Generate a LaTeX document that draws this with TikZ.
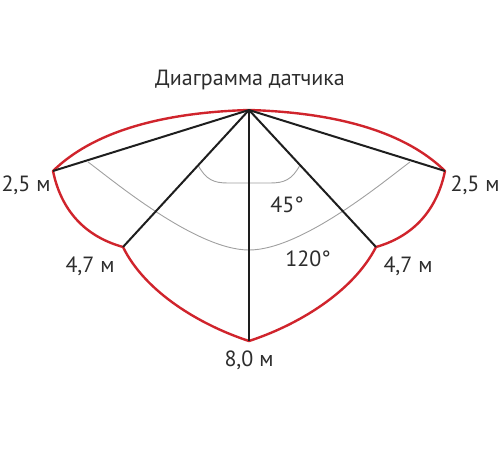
\documentclass[tikz,border=0pt]{standalone}
\usepackage{fontspec}
\setmainfont{PT Sans}
\definecolor{sred}{RGB}{208,36,44}
\definecolor{sblack}{RGB}{30,30,30}
\definecolor{sgray}{RGB}{160,160,160}
\definecolor{stext}{RGB}{45,45,45}
\begin{document}
\begin{tikzpicture}[x=1pt,y=-1pt,
  redline/.style={draw=sred,line width=2.4pt,line join=round},
  blackline/.style={draw=sblack,line width=2pt},
  grayline/.style={draw=sgray,line width=0.9pt},
  lbl/.style={text=stext,font=\fontsize{22}{26}\selectfont,inner sep=0pt}]
\useasboundingbox (0,0) rectangle (500,450);
\coordinate (apex) at (249,110);
\coordinate (L25) at (53,171);
\coordinate (R25) at (445,171);
\coordinate (L47) at (123,247);
\coordinate (R47) at (376,247);
\coordinate (B80) at (249,341);
% gray arcs
\draw[grayline] (198,165) .. controls (206,180) and (214,183) .. (228,183) -- (270,183) .. controls (284,183) and (292,180) .. (300,165);
\draw[grayline] (88,162) .. controls (110,178) and (195,250) .. (249,250) .. controls (303,250) and (388,178) .. (410,162);
% red outline
\draw[redline] (apex) .. controls (180,112) and (100,125) .. (L25)
  .. controls (60,205) and (80,235) .. (L47)
  .. controls (145,292) and (200,325) .. (B80)
  .. controls (298,325) and (353,292) .. (R47)
  .. controls (418,235) and (438,205) .. (R25)
  .. controls (398,125) and (318,112) .. (apex);
% black rays
\draw[blackline] (apex) -- (L25);
\draw[blackline] (apex) -- (R25);
\draw[blackline] (apex) -- (L47);
\draw[blackline] (apex) -- (R47);
\draw[blackline] (apex) -- (B80);
% labels
\node[lbl] (title) at (250,80) {Диаграмма датчика};
\node[lbl] (tL25) at (26,185) {2,5 м};
\node[lbl] (tR25) at (475,185) {2,5 м};
\node[lbl] (tL47) at (90,266) {4,7 м};
\node[lbl] (tR47) at (408,266) {4,7 м};
\node[lbl] (tB80) at (249,360) {8,0 м};
\node[lbl] (a45) at (287,205) {45°};
\node[lbl] (a120) at (308,259) {120°};
\end{tikzpicture}
\end{document}
